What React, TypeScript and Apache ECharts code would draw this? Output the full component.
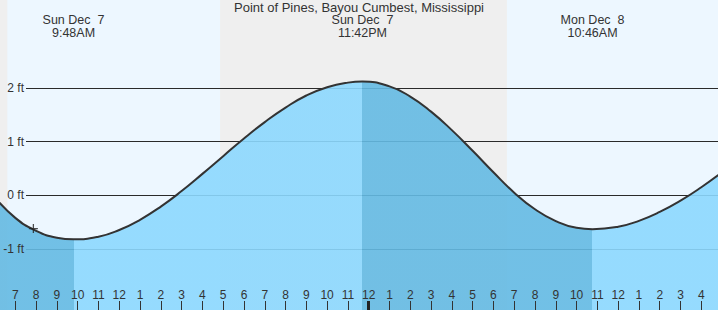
import React, { useEffect, useRef } from 'react';
import * as echarts from 'echarts';

const FONT = '"Liberation Sans", Arial, Helvetica, sans-serif';

const TITLE = 'Point of Pines, Bayou Cumbest, Mississippi';

// Tide curve: hours since midnight Dec 7, height in ft
const hours = [6, 7, 8, 9, 9.8, 11, 12, 13, 14, 15, 16, 17, 18, 19, 20, 21, 22, 23, 23.7, 25, 26, 27, 28, 29, 30, 31, 32, 33, 34, 34.767, 36, 37, 38, 39, 40, 41];
const heights = [-0.03, -0.42, -0.66, -0.79, -0.82, -0.77, -0.645, -0.455, -0.21, 0.08, 0.4, 0.73, 1.06, 1.365, 1.635, 1.86, 2.015, 2.1, 2.12, 2.03, 1.84, 1.56, 1.215, 0.83, 0.43, 0.05, -0.26, -0.48, -0.605, -0.63, -0.585, -0.475, -0.31, -0.1, 0.15, 0.43];

// High / low events
const extremeTimes = [9.8, 23.7, 34.767];
const extremeLabels = ['Sun Dec  7\n9:48AM', 'Sun Dec  7\n11:42PM', 'Mon Dec  8\n10:46AM'];

// Daylight periods (sunrise, sunset)
const dayStarts = [6.615, 30.65];
const dayEnds = [16.85, 40.85];

// Hour ticks
const hourTicks = [7, 8, 9, 10, 11, 12, 13, 14, 15, 16, 17, 18, 19, 20, 21, 22, 23, 24, 25, 26, 27, 28, 29, 30, 31, 32, 33, 34, 35, 36, 37, 38, 39, 40];
const midnightTicks = [24];

// y labels
const yTicks = [-1, 0, 1, 2];

// current time marker
const nowPoint = [7.87, -0.62];

const X_MIN = 6.264;
const X_MAX = 40.803;
const Y_MIN = -2.1366;
const Y_MAX = 3.6398;

const LIGHT = '#8cd8fe';
const DARK = '#64bae3';
const DAY = '#edf7ff';

export default function App() {
  const ref = useRef<HTMLDivElement>(null);
  useEffect(() => {
    document.body.style.margin = '0';
    const chart = echarts.init(ref.current!, null, { renderer: 'svg' });
    const curve = hours.map((h, i) => [h, heights[i]]);
    const hourFmt = (v: number) => {
      const h = Math.round(v) % 12;
      return String(h === 0 ? 12 : h);
    };
    const extremeFmt = (v: number) => {
      let best = 0;
      extremeTimes.forEach((t, i) => {
        if (Math.abs(t - v) < Math.abs(extremeTimes[best] - v)) best = i;
      });
      return extremeLabels[best];
    };
    const option: any = {
      animation: false,
      backgroundColor: '#efefef',
      textStyle: { fontFamily: FONT },
      title: {
        text: TITLE,
        left: 'center',
        top: 0.5,
        padding: 0,
        textStyle: { fontSize: 13, fontWeight: 'normal', color: '#333', lineHeight: 13, fontFamily: FONT },
      },
      grid: [
        { left: 0, right: 0, top: 0, bottom: 0 },
        { left: 26, right: 0, top: 88, bottom: 61 },
      ],
      xAxis: [
        {
          gridIndex: 0, type: 'value', min: X_MIN, max: X_MAX, position: 'bottom', z: 5,
          axisLine: { show: false, onZero: false }, splitLine: { show: false },
          axisTick: { show: true, inside: true, length: 9, customValues: hourTicks, lineStyle: { color: '#333', width: 1 } },
          axisLabel: { show: true, inside: true, margin: 9, customValues: hourTicks, formatter: hourFmt, fontSize: 12, lineHeight: 12, color: '#333', fontFamily: FONT },
        },
        {
          gridIndex: 0, type: 'value', min: X_MIN, max: X_MAX, position: 'bottom', z: 6,
          axisLine: { show: false, onZero: false }, splitLine: { show: false }, axisLabel: { show: false },
          axisTick: { show: true, inside: true, length: 9, customValues: midnightTicks, lineStyle: { color: '#222', width: 3 } },
        },
        {
          gridIndex: 0, type: 'value', min: X_MIN, max: X_MAX, position: 'top', z: 5,
          axisLine: { show: false, onZero: false }, splitLine: { show: false }, axisTick: { show: false },
          axisLabel: { show: true, inside: true, margin: 13.5, customValues: extremeTimes, formatter: extremeFmt, fontSize: 12.5, lineHeight: 13, color: '#333', fontFamily: FONT },
        },
        { gridIndex: 1, type: 'value', min: X_MIN, max: X_MAX, show: false, axisLine: { onZero: false } },
      ],
      yAxis: [
        { gridIndex: 0, type: 'value', min: Y_MIN, max: Y_MAX, show: false, axisLine: { onZero: false } },
        {
          gridIndex: 1, type: 'value', min: -1, max: 2, interval: 1, z: 1.5, position: 'left',
          axisLine: { show: false, onZero: false }, axisTick: { show: false }, axisLabel: { show: false },
          splitLine: { show: true, lineStyle: { color: '#2a2a2a', width: 1 } },
        },
        {
          gridIndex: 1, type: 'value', min: -1, max: 2, position: 'left', z: 5,
          axisLine: { show: false, onZero: false }, axisTick: { show: false }, splitLine: { show: false },
          axisLabel: { show: true, margin: 2, customValues: yTicks, formatter: (v: number) => `${v} ft`, fontSize: 12, color: '#333', fontFamily: FONT },
        },
      ],
      visualMap: {
        type: 'piecewise', show: false, dimension: 0, seriesIndex: 0,
        pieces: [
          { lt: extremeTimes[0], color: DARK },
          { gte: extremeTimes[0], lt: extremeTimes[1], color: LIGHT },
          { gte: extremeTimes[1], lt: extremeTimes[2], color: DARK },
          { gte: extremeTimes[2], color: LIGHT },
        ],
      },
      series: [
        {
          type: 'line', xAxisIndex: 0, yAxisIndex: 0, data: curve, smooth: true, showSymbol: false, silent: true, z: 2,
          lineStyle: { width: 0 },
          areaStyle: { origin: 'start', opacity: 0.9 },
        },
        {
          type: 'line', xAxisIndex: 0, yAxisIndex: 0, data: curve, smooth: true, showSymbol: false, silent: true, z: 3,
          lineStyle: { color: '#333', width: 2 }, itemStyle: { color: '#333' },
          markArea: {
            silent: true,
            itemStyle: { color: DAY },
            data: dayStarts.map((s, i) => [{ xAxis: s }, { xAxis: dayEnds[i] }]),
          },
        },
        {
          type: 'scatter', xAxisIndex: 0, yAxisIndex: 0, data: [nowPoint], z: 4, silent: true,
          symbol: 'path://M4.3,0H5.7V10H4.3ZM0,4.3H10V5.7H0Z', symbolSize: 9,
          itemStyle: { color: '#222' },
        },
      ],
    };
    chart.setOption(option);
    return () => chart.dispose();
  }, []);
  return <div ref={ref} style={{ width: 718, height: 310 }} />;
}
